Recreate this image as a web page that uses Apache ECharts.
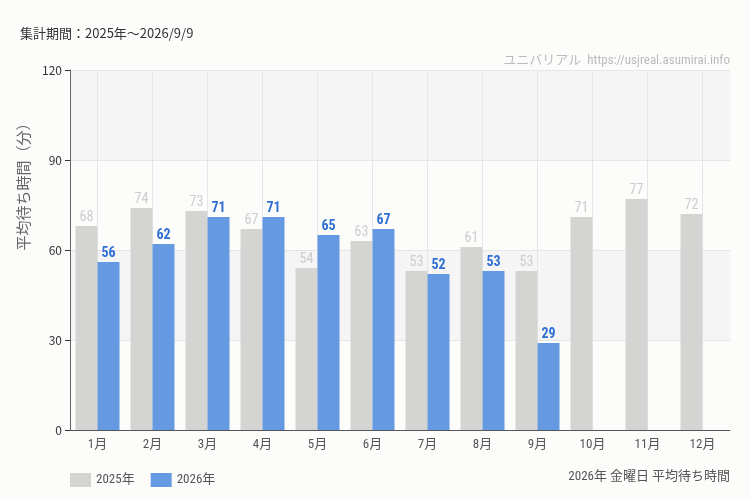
<!DOCTYPE html>
<html>
<head>
<meta charset="utf-8">
<script src="https://cdn.jsdelivr.net/npm/echarts@6/dist/echarts.min.js"></script>
<style>
    html, body { margin: 0; padding: 0; background: #fcfdfb; }
    #chart { width: 750px; height: 500px; }
</style>
</head>
<body>
<div id="chart"></div>
<script>
    /* データ */
    const months = ['1月', '2月', '3月', '4月', '5月', '6月', '7月', '8月', '9月', '10月', '11月', '12月']
    const wait2025 = [68, 74, 73, 67, 54, 63, 53, 61, 53, 71, 77, 72]
    const wait2026 = [56, 62, 71, 71, 65, 67, 52, 53, 29, null, null, null]
    const yTicks = [0, 30, 60, 90, 120]

    const narrow = '"Liberation Sans Narrow", "Roboto Condensed", "Noto Sans CJK JP", sans-serif'
    const jp = '"Noto Sans CJK JP", "Noto Sans", sans-serif'

    const chart = echarts.init(document.getElementById('chart'))
    chart.setOption({
        backgroundColor: '#fcfdfb',
        animation: false,
        title: [
            {
                text: '集計期間：2025年～2026/9/9',
                left: 15,
                top: 22,
                textStyle: { fontSize: 13, fontWeight: 'normal', color: '#333', fontFamily: jp }
            },
            {
                text: 'ユニバリアル  https://usjreal.asumirai.info',
                right: 15,
                top: 49,
                textStyle: { fontSize: 13, fontWeight: 'normal', color: '#bbb', fontFamily: narrow }
            },
            {
                text: '2026年 金曜日 平均待ち時間',
                right: 15,
                top: 465,
                textStyle: { fontSize: 13, fontWeight: 'normal', color: '#555', fontFamily: narrow }
            }
        ],
        legend: {
            left: 65,
            top: 468,
            itemWidth: 21,
            itemHeight: 14,
            itemGap: 16,
            icon: 'rect',
            textStyle: { fontSize: 13, color: '#555', fontFamily: narrow },
            data: ['2025年', '2026年']
        },
        grid: { left: 70, right: 20, top: 70, bottom: 70 },
        xAxis: {
            type: 'category',
            data: months,
            axisLine: { lineStyle: { color: '#555' } },
            axisTick: { alignWithLabel: true, length: 5, lineStyle: { color: '#333' } },
            axisLabel: { fontSize: 13, color: '#555', fontFamily: narrow, margin: 8 },
            splitLine: { show: true, alignWithLabel: true, lineStyle: { color: '#e6e6e6' } }
        },
        yAxis: {
            type: 'value',
            min: yTicks[0],
            max: yTicks[yTicks.length - 1],
            interval: 30,
            name: '平均待ち時間（分）',
            nameLocation: 'middle',
            nameGap: 34,
            nameTextStyle: { fontSize: 15, color: '#666', fontFamily: jp, padding: [0, 0, 0, 134] },
            axisLine: { show: true, lineStyle: { color: '#666' } },
            axisTick: { show: true, length: 5, lineStyle: { color: '#333' } },
            axisLabel: { fontSize: 12, color: '#333', fontFamily: jp, margin: 8 },
            splitLine: { lineStyle: { color: '#e6e6e6' } },
            splitArea: { show: true, areaStyle: { color: ['rgba(0,0,0,0)', '#f4f5f4'] } }
        },
        series: [
            {
                name: '2025年',
                type: 'bar',
                data: wait2025,
                barGap: '0%',
                barCategoryGap: '20%',
                itemStyle: { color: '#d4d5d3' },
                label: {
                    show: true,
                    position: 'top',
                    distance: 2,
                    fontSize: 14,
                    color: '#ccc',
                    fontFamily: narrow
                }
            },
            {
                name: '2026年',
                type: 'bar',
                data: wait2026,
                itemStyle: { color: '#6599e2' },
                label: {
                    show: true,
                    position: 'top',
                    distance: 2,
                    fontSize: 14,
                    fontWeight: 'bold',
                    color: '#2f6fd4',
                    fontFamily: narrow
                }
            }
        ]
    })
</script>
</body>
</html>
